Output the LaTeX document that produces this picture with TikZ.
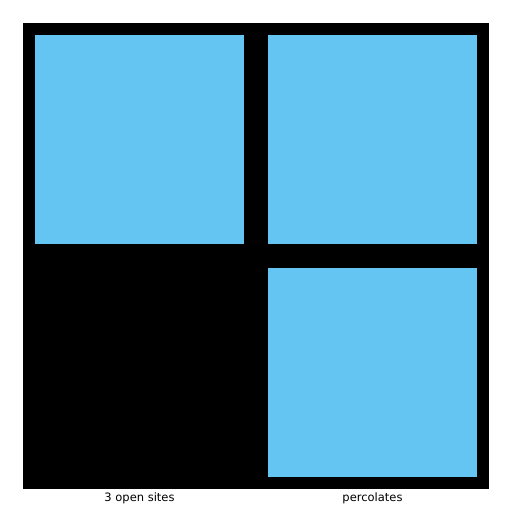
\documentclass[tikz,border=0pt]{standalone}
\usepackage{fontspec}
\setmainfont{DejaVu Sans}
\usetikzlibrary{positioning}

\begin{document}
\begin{tikzpicture}[
  x=1pt, y=-1pt,
  rejilla/.style={rectangle, fill=black, draw=none, minimum size=466pt, inner sep=0pt},
  abierta/.style={rectangle, fill=celeste, draw=none, minimum size=209pt, inner sep=0pt},
  etiqueta/.style={font=\fontsize{11.5}{13}\selectfont, inner sep=0pt}
]
\definecolor{celeste}{RGB}{100,197,242}
\useasboundingbox (0,0) rectangle (512,512);
\node[rejilla] (grid) at (256,256) {};
\node[abierta] (c11) at (139.5,139.5) {};
\node[abierta] (c12) at (372.5,139.5) {};
\node[abierta] (c22) at (372.5,372.5) {};
\node[etiqueta] (sitios) at (139.5,498.5) {3 open sites};
\node[etiqueta] (perc) at (372.5,498.5) {percolates};
\end{tikzpicture}
\end{document}
